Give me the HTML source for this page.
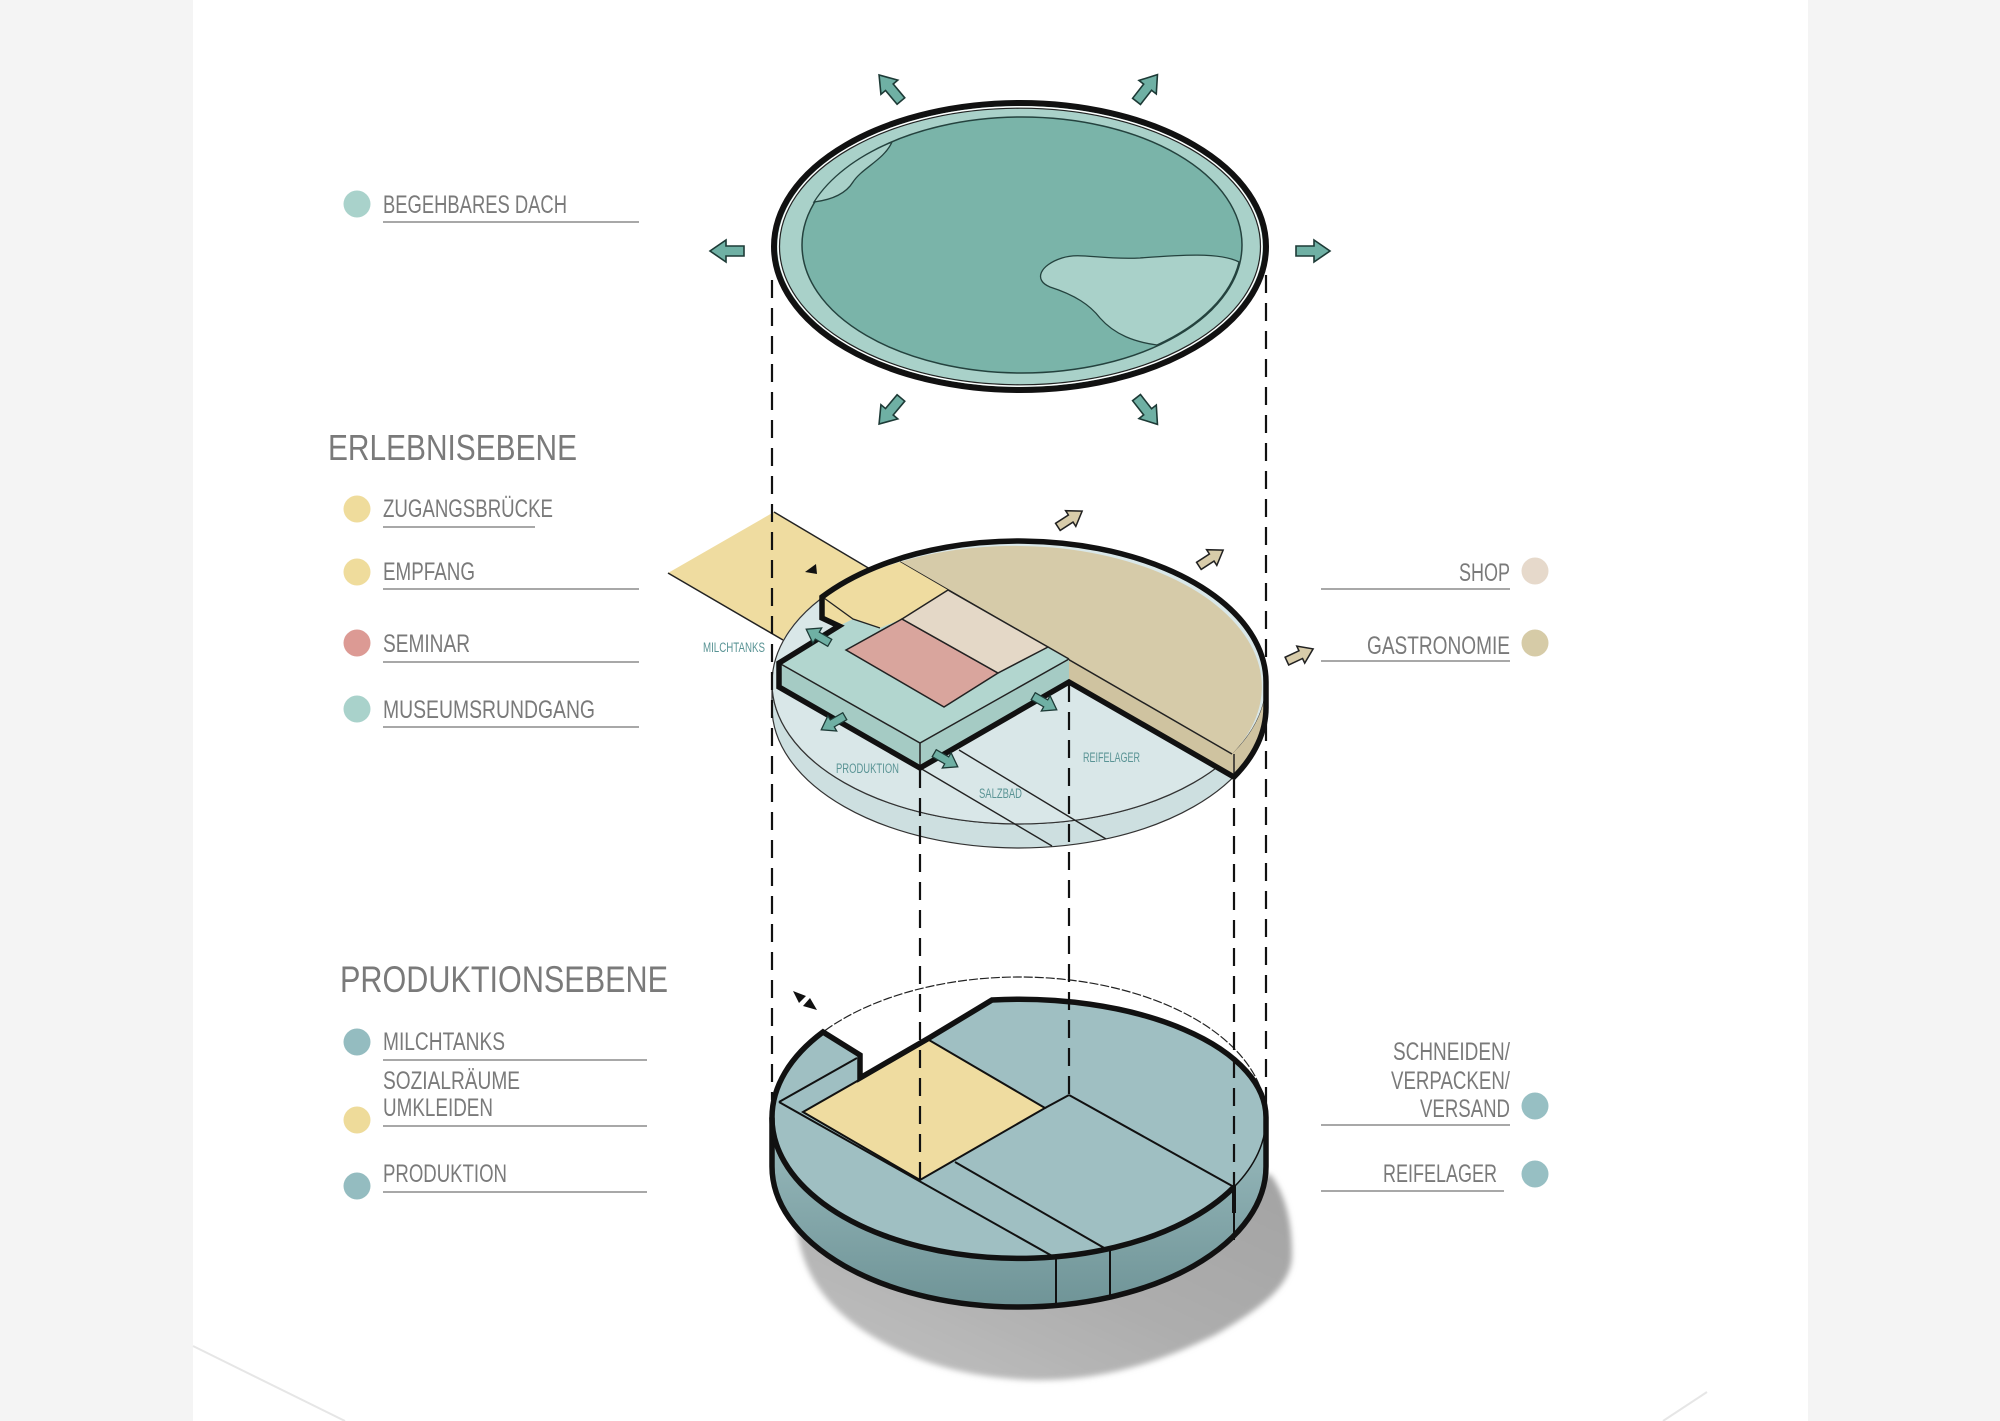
<!DOCTYPE html>
<html><head><meta charset="utf-8"><style>html,body{margin:0;padding:0;background:#fff}svg{display:block}</style></head>
<body>
<svg width="2000" height="1421" viewBox="0 0 2000 1421" xmlns="http://www.w3.org/2000/svg">
<defs>
 <filter id="blur" x="-20%" y="-20%" width="140%" height="140%"><feGaussianBlur stdDeviation="3"/></filter>
 <linearGradient id="wall" x1="0" y1="0" x2="0" y2="1"><stop offset="0" stop-color="#9abbbe"/><stop offset="1" stop-color="#6f9497"/></linearGradient>
 <linearGradient id="sh" x1="0" y1="1" x2="1" y2="0"><stop offset="0" stop-color="#c2c2c2"/><stop offset="0.5" stop-color="#adadad"/><stop offset="1" stop-color="#a2a2a2"/></linearGradient>
 <path id="arr" d="M-17,-5 L1,-5 L1,-11 L17,0 L1,11 L1,5 L-17,5 Z"/>
</defs>
<rect width="2000" height="1421" fill="#fff"/>
<rect x="0" y="0" width="193" height="1421" fill="#f4f4f4"/>
<rect x="1808" y="0" width="192" height="1421" fill="#f4f4f4"/>
<line x1="193" y1="1346" x2="345" y2="1421" stroke="#e6e6e6" stroke-width="2"/>
<line x1="1707" y1="1392" x2="1663" y2="1421" stroke="#e6e6e6" stroke-width="2"/>

<!-- ROOF -->
<ellipse cx="1020" cy="246.5" rx="246" ry="143.5" fill="#a9d1c9" stroke="#111" stroke-width="6"/>
<ellipse cx="1020" cy="246.5" rx="241.8" ry="139.6" fill="none" stroke="#fff" stroke-width="1.5"/>
<ellipse cx="1020" cy="246.5" rx="240.5" ry="138.3" fill="none" stroke="#222" stroke-width="1.2"/>
<ellipse cx="1022" cy="245" rx="220" ry="128" fill="#7ab4a9" stroke="#24423e" stroke-width="1.5"/>
<path d="M814,202 C830,200 845,195 853,182 C862,168 884,160 892,142 A220,128 0 0 0 814,202 Z" fill="#a9d1c9" stroke="#24423e" stroke-width="1.3"/>
<path d="M1239,262 C1220,252 1180,255 1140,258 C1100,260 1080,252 1062,258 C1040,265 1033,280 1050,287 C1075,295 1090,305 1100,318 C1115,335 1135,342 1157,345 A220,128 0 0 0 1239,262 Z" fill="#a9d1c9" stroke="#24423e" stroke-width="1.3"/>

<!-- LOWER DISC -->
<path d="M796,1223 C800,1260 815,1300 867,1333 C910,1360 960,1377 1030,1380 C1100,1382 1160,1362 1215,1335 C1262,1308 1292,1285 1292,1255 C1292,1220 1285,1195 1271,1175 L1050,1150 L796,1180 Z" fill="url(#sh)" filter="url(#blur)"/>
<path d="M772,1117.5 A247,140.5 0 0 0 1266,1117.5 L1266,1166.5 A247,140.5 0 0 1 772,1166.5 Z" fill="url(#wall)"/>
<ellipse cx="1019" cy="1117.5" rx="247" ry="140.5" fill="none" stroke="#222" stroke-width="1.2" stroke-dasharray="9 2"/>
<path d="M823,1032 L860,1055 L860,1078 L929,1038 L992,1000 A247,118 0 0 1 1266,1117.5 A247,140.5 0 0 1 772,1117.5 A247,140.5 0 0 1 823,1032 Z" fill="#9fbfc2"/>
<path d="M803,1112 L929,1040 L1045,1108 L920,1180 Z" fill="#efdca0" stroke="#111" stroke-width="2"/>
<g stroke="#111" stroke-width="2" fill="none">
 <line x1="779" y1="1102" x2="1054" y2="1257"/>
 <line x1="779" y1="1102" x2="857" y2="1058"/>
 <line x1="955" y1="1162" x2="1106" y2="1249"/>
 <line x1="1045" y1="1108" x2="1069" y2="1095"/>
 <line x1="1069" y1="1095" x2="1234" y2="1187"/>
 <line x1="1056" y1="1257" x2="1056" y2="1307"/>
 <line x1="1110" y1="1249" x2="1110" y2="1298"/>
 <line x1="1234" y1="1212" x2="1234" y2="1240"/>
 <path d="M1234,1187 A247,140.5 0 0 0 1266,1117.5" stroke-width="1.5"/>
</g>
<g stroke="#111" stroke-width="5.5" fill="none" stroke-linejoin="miter">
 <path d="M823,1032 L860,1055 L860,1078 L929,1038 L992,1000 A247,118 0 0 1 1266,1117.5 L1266,1166.5 A247,140.5 0 0 1 772,1166.5 L772,1117.5 A247,140.5 0 0 1 823,1032 Z"/>
 <path d="M772,1117.5 A247,140.5 0 0 0 1234,1187"/>
 <line x1="1234" y1="1185" x2="1234" y2="1213" stroke-width="4"/>
</g>
<polygon points="793,991 806,996 799,1003" fill="#111"/>
<polygon points="817,1010 803,1006 810,998" fill="#111"/>

<!-- MIDDLE DISC -->
<path d="M668,573 L774,512 L870,570 A247,141 0 0 0 783,640 Z" fill="#efdca0"/>
<g stroke="#222" stroke-width="1.5"><line x1="668" y1="573" x2="783" y2="640"/><line x1="774" y1="512" x2="870" y2="569"/></g>
<polygon points="805,572 816,564 817,574" fill="#111"/>
<path d="M772,683 A247,141 0 0 0 1266,683 L1266,707 A247,141 0 0 1 772,707 Z" fill="#cddfe0" stroke="#333" stroke-width="1.2"/>
<ellipse cx="1019" cy="683" rx="247" ry="141" fill="#d9e7e8" stroke="#333" stroke-width="1.2"/>
<g stroke="#222" stroke-width="1.4"><line x1="920" y1="768" x2="1052" y2="846"/><line x1="959" y1="750" x2="1106" y2="839"/></g>
<path d="M900,562 A247,141 0 0 1 1232,754 L900,562 Z" fill="#d6cba9"/>
<path d="M1069,660 L1232,754 A247,141 0 0 0 1266,683 L1266,707 A247,141 0 0 1 1234,777 L1069,682 Z" fill="#cfc3a0"/>
<g stroke="#222" stroke-width="1.5"><line x1="900" y1="562" x2="1232" y2="754"/><line x1="1234" y1="754" x2="1234" y2="777"/></g>
<path d="M822,597 A247,141 0 0 1 900,562 L948,590 L902,619 L880,628 L853,619 L839,626 L822,618 Z" fill="#efdca0"/>
<path d="M779,663 L839,626 L853,619 L880,628 L902,619 L1048,647 L1069,659 L920,743 Z" fill="#b2d6cf"/>
<g stroke="#222" stroke-width="1.3" fill="none"><path d="M824,598 L853,619 L880,628"/></g>
<path d="M779,663 L920,743 L920,768 L779,687 Z" fill="#a5cbc4"/>
<path d="M920,743 L1069,659 L1069,682 L920,768 Z" fill="#a5cbc4"/>
<g stroke="#222" stroke-width="1.5" fill="none"><path d="M779,663 L920,743 L1069,659"/><line x1="920" y1="743" x2="920" y2="768"/><line x1="1048" y1="647" x2="1069" y2="659"/></g>
<path d="M846,650 L902,619 L998,673 L944,707 Z" fill="#d9a59d" stroke="#222" stroke-width="1.5"/>
<path d="M902,619 L948,590 L1048,647 L998,673 Z" fill="#e4d8c7" stroke="#222" stroke-width="1.5"/>
<path d="M822,597 A247,141 0 0 1 1266,683 L1266,707 A247,141 0 0 1 1234,777 L1069,682 L920,768 L779,687 L779,663 L839,626 L822,618 Z" fill="none" stroke="#111" stroke-width="5.5" stroke-linejoin="miter"/>

<g font-family="Liberation Sans, sans-serif" font-size="13.5" fill="#5a9495">
 <text x="703" y="652" textLength="62" lengthAdjust="spacingAndGlyphs">MILCHTANKS</text>
 <text x="836" y="773" textLength="63" lengthAdjust="spacingAndGlyphs">PRODUKTION</text>
 <text x="979" y="798" textLength="43" lengthAdjust="spacingAndGlyphs">SALZBAD</text>
 <text x="1083" y="762" textLength="57" lengthAdjust="spacingAndGlyphs">REIFELAGER</text>
</g>

<!-- DASHED PROJECTION LINES -->
<g stroke="#111" stroke-width="2.2" stroke-dasharray="18 10" fill="none">
 <line x1="772" y1="280" x2="772" y2="1100"/>
 <line x1="1266" y1="275" x2="1266" y2="1105"/>
 <line x1="920" y1="770" x2="920" y2="1180"/>
 <line x1="1069" y1="684" x2="1069" y2="1095"/>
 <line x1="1234" y1="780" x2="1234" y2="1187"/>
</g>

<!-- ARROWS -->
<g fill="#6fb0a4" stroke="#1d3a36" stroke-width="1.6">
 <use href="#arr" transform="translate(890,88) rotate(-130)"/>
 <use href="#arr" transform="translate(1147,88) rotate(-52)"/>
 <use href="#arr" transform="translate(727,251) rotate(180)"/>
 <use href="#arr" transform="translate(1313,251)"/>
 <use href="#arr" transform="translate(890,411) rotate(130)"/>
 <use href="#arr" transform="translate(1147,411) rotate(52)"/>
 <use href="#arr" transform="translate(818,636) rotate(-150) scale(0.8)"/>
 <use href="#arr" transform="translate(833,723) rotate(150) scale(0.8)"/>
 <use href="#arr" transform="translate(946,760) rotate(30) scale(0.8)"/>
 <use href="#arr" transform="translate(1045,703) rotate(30) scale(0.8)"/>
</g>
<g fill="#d8ccaa" stroke="#222" stroke-width="1.8">
 <use href="#arr" transform="translate(1070,519) rotate(-33) scale(0.85)"/>
 <use href="#arr" transform="translate(1211,558) rotate(-33) scale(0.85)"/>
 <use href="#arr" transform="translate(1300,655) rotate(-25) scale(0.85)"/>
</g>

<!-- LEGEND -->
<g stroke="#a8a8a8" stroke-width="2">
 <line x1="383" y1="222" x2="639" y2="222"/>
 <line x1="383" y1="527" x2="535" y2="527"/>
 <line x1="383" y1="589" x2="639" y2="589"/>
 <line x1="383" y1="662" x2="639" y2="662"/>
 <line x1="383" y1="727" x2="639" y2="727"/>
 <line x1="383" y1="1060" x2="647" y2="1060"/>
 <line x1="383" y1="1126" x2="647" y2="1126"/>
 <line x1="383" y1="1192" x2="647" y2="1192"/>
 <line x1="1321" y1="589" x2="1510" y2="589"/>
 <line x1="1321" y1="661" x2="1510" y2="661"/>
 <line x1="1321" y1="1125" x2="1510" y2="1125"/>
 <line x1="1321" y1="1191" x2="1504" y2="1191"/>
</g>
<circle cx="357" cy="204" r="13.5" fill="#a9d2cb"/>
<circle cx="357" cy="509" r="13.5" fill="#efdc9c"/>
<circle cx="357" cy="572" r="13.5" fill="#efdc9c"/>
<circle cx="357" cy="643" r="13.5" fill="#dc9a94"/>
<circle cx="357" cy="709" r="13.5" fill="#a9d2cb"/>
<circle cx="357" cy="1042" r="13.5" fill="#94bcc0"/>
<circle cx="357" cy="1120" r="13.5" fill="#eedb9a"/>
<circle cx="357" cy="1186" r="13.5" fill="#94bcc0"/>
<circle cx="1535" cy="571" r="13.5" fill="#e6d9cb"/>
<circle cx="1535" cy="643" r="13.5" fill="#d6cba7"/>
<circle cx="1535" cy="1106" r="13.5" fill="#97bfc3"/>
<circle cx="1535" cy="1174" r="13.5" fill="#97bfc3"/>

<g font-family="Liberation Sans, sans-serif" font-size="25" fill="#7a7a7a">
 <text x="383" y="213" textLength="184" lengthAdjust="spacingAndGlyphs">BEGEHBARES DACH</text>
 <text x="328" y="460" font-size="36" textLength="249" lengthAdjust="spacingAndGlyphs">ERLEBNISEBENE</text>
 <text x="383" y="517" textLength="170" lengthAdjust="spacingAndGlyphs">ZUGANGSBRÜCKE</text>
 <text x="383" y="580" textLength="92" lengthAdjust="spacingAndGlyphs">EMPFANG</text>
 <text x="383" y="652" textLength="87" lengthAdjust="spacingAndGlyphs">SEMINAR</text>
 <text x="383" y="718" textLength="212" lengthAdjust="spacingAndGlyphs">MUSEUMSRUNDGANG</text>
 <text x="340" y="992" font-size="37" textLength="328" lengthAdjust="spacingAndGlyphs">PRODUKTIONSEBENE</text>
 <text x="383" y="1050" textLength="122" lengthAdjust="spacingAndGlyphs">MILCHTANKS</text>
 <text x="383" y="1089" textLength="137" lengthAdjust="spacingAndGlyphs">SOZIALRÄUME</text>
 <text x="383" y="1116" textLength="110" lengthAdjust="spacingAndGlyphs">UMKLEIDEN</text>
 <text x="383" y="1182" textLength="124" lengthAdjust="spacingAndGlyphs">PRODUKTION</text>
 <text x="1459" y="581" textLength="51" lengthAdjust="spacingAndGlyphs">SHOP</text>
 <text x="1367" y="654" textLength="143" lengthAdjust="spacingAndGlyphs">GASTRONOMIE</text>
 <text x="1393" y="1060" textLength="117" lengthAdjust="spacingAndGlyphs">SCHNEIDEN/</text>
 <text x="1391" y="1089" textLength="119" lengthAdjust="spacingAndGlyphs">VERPACKEN/</text>
 <text x="1420" y="1117" textLength="90" lengthAdjust="spacingAndGlyphs">VERSAND</text>
 <text x="1383" y="1182" textLength="114" lengthAdjust="spacingAndGlyphs">REIFELAGER</text>
</g>
</svg>
</body></html>
